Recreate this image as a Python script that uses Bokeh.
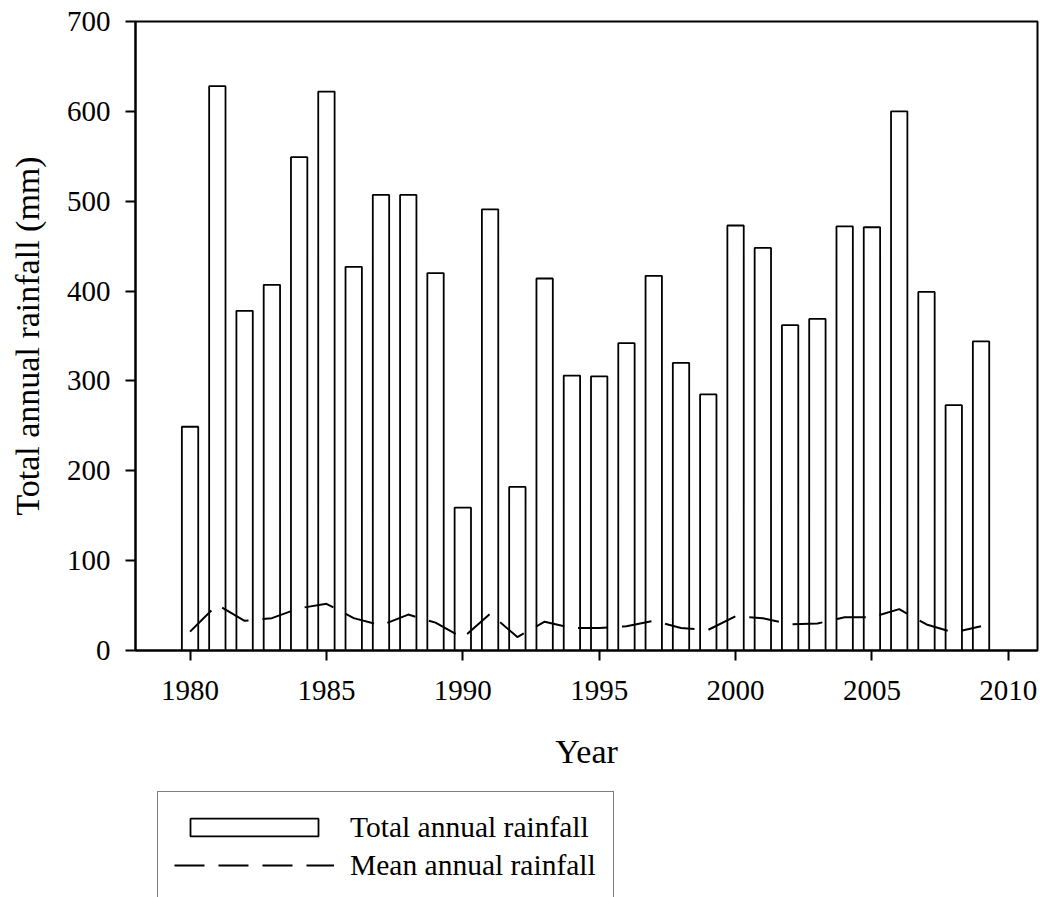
from bokeh.plotting import figure
from bokeh.models import Range1d, FixedTicker, Legend, LegendItem
from bokeh.layouts import column
from bokeh.embed import file_html
from bokeh.resources import INLINE

years = list(range(1980, 2010))
total_rainfall = [249, 628, 378, 407, 549, 622, 427, 507, 507, 420,
                  159, 491, 182, 414, 306, 305, 342, 417, 320, 285,
                  473, 448, 362, 369, 472, 471, 600, 399, 273, 344]
mean_rainfall = [21, 51, 33, 36, 47, 52, 36, 28, 40, 31,
                 14, 41, 15, 32, 25, 25, 27, 33, 25, 23,
                 38, 36, 29, 30, 37, 37, 46, 29, 20, 27]
x_ticks = [1980, 1985, 1990, 1995, 2000, 2005, 2010]
y_ticks = [0, 100, 200, 300, 400, 500, 600, 700]
legend_labels = ["Total annual rainfall", "Mean annual rainfall"]

FONT = "Liberation Serif"
BAR_STYLE = dict(fill_color="white", line_color="black", line_width=1.8)
LINE_STYLE = dict(line_color="black", line_width=2, line_dash="30 14")
BORDERS = dict(min_border_left=135, min_border_right=3)

p = figure(width=1040, height=791, output_backend="svg", toolbar_location=None,
           x_range=Range1d(1978.0, 2011.07), y_range=Range1d(0, 700),
           min_border_top=21, min_border_bottom=141, **BORDERS)
p.grid.visible = False
p.outline_line_color = "black"
p.outline_line_width = 2
p.background_fill_color = "white"
p.border_fill_color = "white"

p.vbar(x=years, top=total_rainfall, width=0.6, bottom=0, **BAR_STYLE)
p.line(x=years, y=mean_rainfall, **LINE_STYLE)

for ax in (p.xaxis[0], p.yaxis[0]):
    ax.axis_line_color = "black"
    ax.axis_line_width = 2
    ax.major_tick_line_color = "black"
    ax.major_tick_line_width = 2
    ax.major_tick_in = 0
    ax.major_tick_out = 10
    ax.minor_tick_line_color = None
    ax.major_label_text_font = FONT
    ax.major_label_text_font_size = "29px"
    ax.major_label_text_color = "black"
    ax.axis_label_text_font = FONT
    ax.axis_label_text_font_size = "34px"
    ax.axis_label_text_font_style = "normal"
    ax.axis_label_text_color = "black"

p.xaxis.ticker = FixedTicker(ticks=x_ticks)
p.yaxis.ticker = FixedTicker(ticks=y_ticks)
p.xaxis.axis_label = "Year"
p.yaxis.axis_label = "Total annual rainfall (mm)"
p.xaxis.major_label_standoff = 20
p.yaxis.major_label_standoff = 15
p.xaxis.axis_label_standoff = 30
p.yaxis.axis_label_standoff = 18

# Legend panel below the chart
lg = figure(width=1040, height=106, output_backend="svg", toolbar_location=None,
            x_range=Range1d(1978.0, 2011.07), y_range=Range1d(0, 700),
            min_border_top=0, min_border_bottom=0, **BORDERS)
lg.axis.visible = False
lg.grid.visible = False
lg.outline_line_color = None
lg.background_fill_color = "white"
lg.border_fill_color = "white"
bar_key = lg.vbar(x=years, top=total_rainfall, width=0.6, visible=False, **BAR_STYLE)
line_key = lg.line(x=years, y=mean_rainfall, visible=False, **LINE_STYLE)

legend = Legend(items=[LegendItem(label=legend_labels[0], renderers=[bar_key]),
                       LegendItem(label=legend_labels[1], renderers=[line_key])],
                location=(22, -4))
legend.label_text_font = FONT
legend.label_text_font_size = "29.5px"
legend.label_text_color = "black"
legend.glyph_width = 160
legend.glyph_height = 22
legend.label_height = 38
legend.label_width = 247
legend.label_standoff = 16
legend.padding = 16
legend.spacing = 0
legend.margin = 0
legend.border_line_color = "black"
legend.border_line_width = 1.8
legend.background_fill_color = "white"
legend.background_fill_alpha = 1.0
legend.inactive_fill_alpha = 0.0
lg.add_layout(legend, "center")

layout = column(p, lg, spacing=0)
open("out.html", "w").write(file_html(layout, INLINE))
